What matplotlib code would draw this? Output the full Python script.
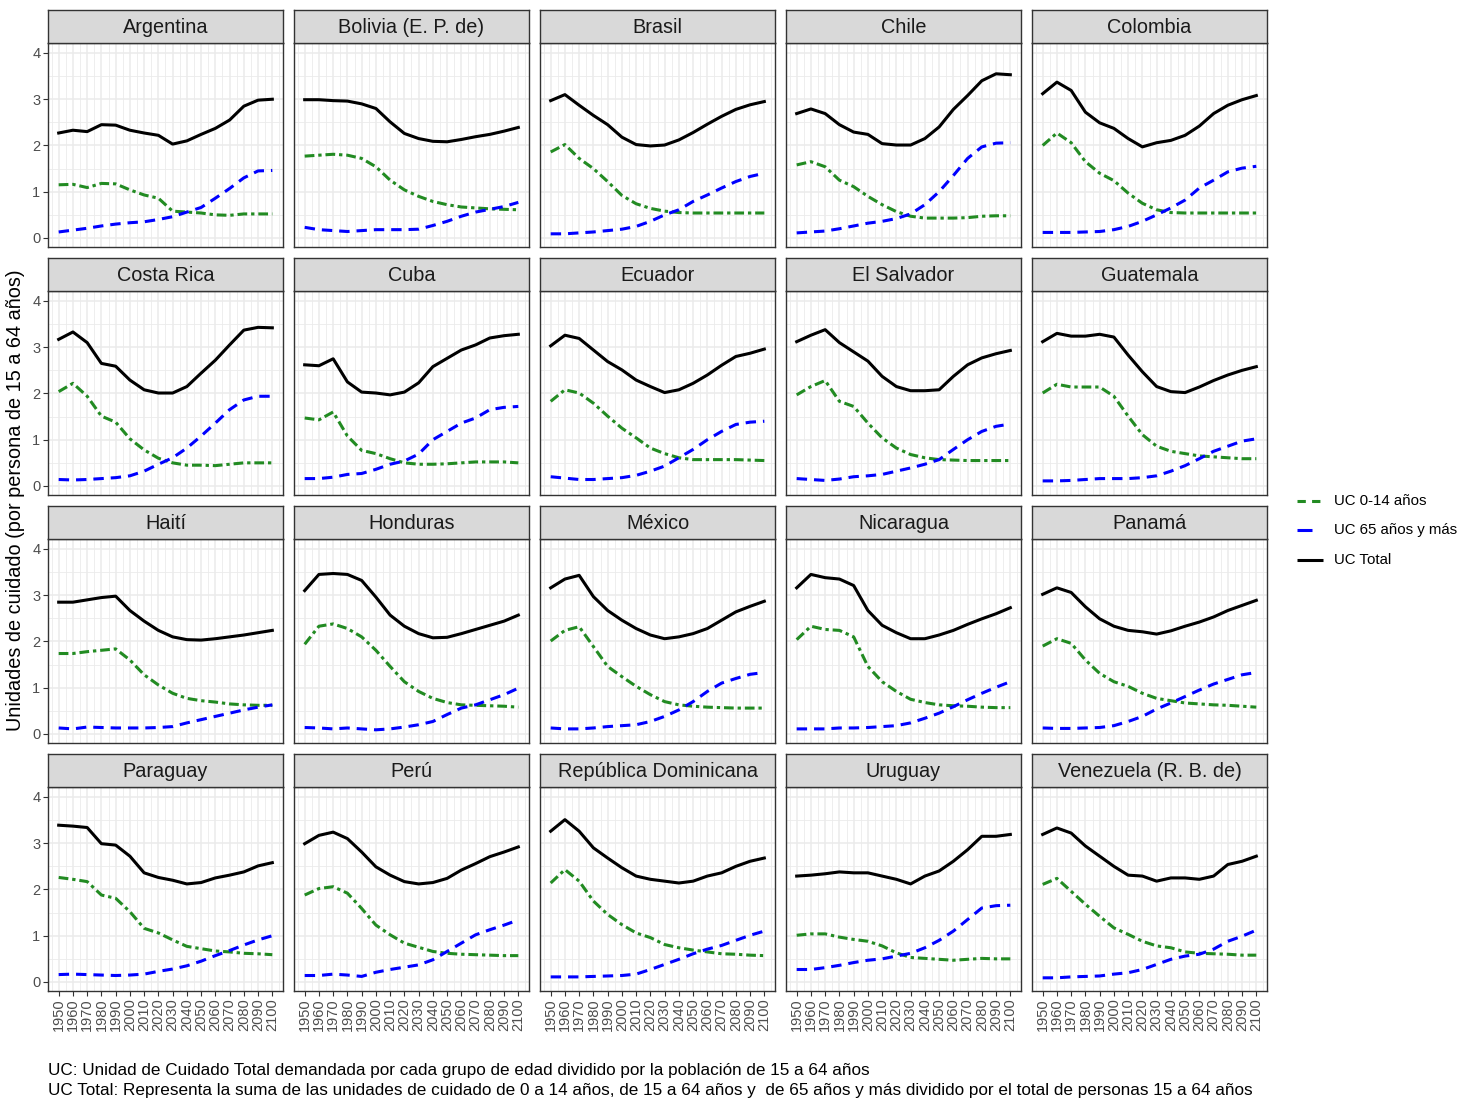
import matplotlib
matplotlib.use("Agg")
import matplotlib.pyplot as plt
from matplotlib.lines import Line2D

plt.rcParams['font.family'] = ['Liberation Sans', 'DejaVu Sans']
plt.rcParams['lines.scale_dashes'] = False

years = list(range(1950, 2101, 10))
tick_labels = [str(y) for y in years]

# ---- data: (UC 0-14, UC 65+, UC Total) per country, decadal values 1950-2100 ----
argentina_014 = [1.15, 1.16, 1.09, 1.18, 1.17, 1.04, 0.93, 0.86, 0.58, 0.56, 0.54, 0.50, 0.49, 0.52, 0.52, 0.52]
argentina_65 = [0.13, 0.17, 0.21, 0.26, 0.30, 0.33, 0.35, 0.40, 0.46, 0.56, 0.66, 0.86, 1.07, 1.30, 1.45, 1.46]
argentina_tot = [2.27, 2.33, 2.30, 2.45, 2.44, 2.33, 2.27, 2.22, 2.03, 2.10, 2.24, 2.37, 2.55, 2.85, 2.98, 3.00]

bolivia_014 = [1.77, 1.79, 1.81, 1.79, 1.72, 1.54, 1.25, 1.04, 0.90, 0.79, 0.72, 0.67, 0.65, 0.63, 0.62, 0.61]
bolivia_65 = [0.23, 0.18, 0.16, 0.14, 0.16, 0.18, 0.18, 0.18, 0.19, 0.27, 0.36, 0.47, 0.56, 0.62, 0.68, 0.77]
bolivia_tot = [2.99, 2.99, 2.97, 2.96, 2.90, 2.80, 2.51, 2.26, 2.15, 2.09, 2.08, 2.13, 2.19, 2.24, 2.31, 2.39]

brasil_014 = [1.86, 2.02, 1.72, 1.50, 1.22, 0.92, 0.74, 0.64, 0.58, 0.55, 0.54, 0.54, 0.54, 0.54, 0.54, 0.54]
brasil_65 = [0.09, 0.09, 0.11, 0.13, 0.16, 0.19, 0.25, 0.36, 0.50, 0.61, 0.79, 0.93, 1.08, 1.22, 1.33, 1.40]
brasil_tot = [2.97, 3.10, 2.87, 2.65, 2.45, 2.18, 2.02, 1.99, 2.01, 2.12, 2.28, 2.46, 2.63, 2.78, 2.88, 2.95]

chile_014 = [1.58, 1.65, 1.54, 1.25, 1.11, 0.90, 0.72, 0.57, 0.47, 0.43, 0.43, 0.43, 0.44, 0.47, 0.48, 0.48]
chile_65 = [0.11, 0.13, 0.15, 0.20, 0.26, 0.32, 0.36, 0.42, 0.52, 0.72, 1.00, 1.35, 1.72, 1.97, 2.05, 2.06]
chile_tot = [2.69, 2.79, 2.69, 2.45, 2.29, 2.24, 2.04, 2.01, 2.01, 2.15, 2.40, 2.78, 3.08, 3.40, 3.55, 3.53]

colombia_014 = [2.00, 2.27, 2.06, 1.65, 1.40, 1.24, 0.97, 0.75, 0.61, 0.55, 0.54, 0.54, 0.54, 0.54, 0.54, 0.54]
colombia_65 = [0.12, 0.12, 0.12, 0.13, 0.14, 0.18, 0.25, 0.36, 0.50, 0.65, 0.82, 1.08, 1.25, 1.43, 1.51, 1.55]
colombia_tot = [3.12, 3.37, 3.19, 2.72, 2.49, 2.37, 2.15, 1.97, 2.06, 2.11, 2.22, 2.42, 2.69, 2.87, 2.99, 3.08]

costarica_014 = [2.04, 2.22, 1.94, 1.51, 1.38, 1.02, 0.78, 0.60, 0.50, 0.45, 0.45, 0.44, 0.47, 0.50, 0.50, 0.50]
costarica_65 = [0.14, 0.13, 0.14, 0.16, 0.18, 0.22, 0.32, 0.47, 0.61, 0.82, 1.08, 1.36, 1.65, 1.86, 1.94, 1.94]
costarica_tot = [3.17, 3.33, 3.10, 2.65, 2.59, 2.29, 2.08, 2.01, 2.01, 2.15, 2.44, 2.72, 3.05, 3.37, 3.43, 3.42]

cuba_014 = [1.47, 1.43, 1.60, 1.08, 0.77, 0.70, 0.59, 0.50, 0.47, 0.47, 0.48, 0.50, 0.52, 0.52, 0.52, 0.50]
cuba_65 = [0.16, 0.16, 0.19, 0.25, 0.27, 0.36, 0.47, 0.54, 0.69, 1.00, 1.18, 1.36, 1.47, 1.65, 1.70, 1.72]
cuba_tot = [2.62, 2.60, 2.75, 2.25, 2.03, 2.01, 1.97, 2.03, 2.23, 2.58, 2.76, 2.94, 3.05, 3.20, 3.25, 3.28]

ecuador_014 = [1.83, 2.08, 2.01, 1.79, 1.51, 1.25, 1.04, 0.82, 0.70, 0.61, 0.57, 0.57, 0.57, 0.57, 0.56, 0.55]
ecuador_65 = [0.20, 0.17, 0.14, 0.14, 0.16, 0.18, 0.23, 0.32, 0.43, 0.61, 0.79, 1.00, 1.18, 1.33, 1.38, 1.40]
ecuador_tot = [3.03, 3.26, 3.19, 2.94, 2.69, 2.51, 2.29, 2.15, 2.02, 2.08, 2.22, 2.40, 2.61, 2.80, 2.87, 2.96]

elsalvador_014 = [1.97, 2.15, 2.28, 1.83, 1.72, 1.36, 1.04, 0.82, 0.68, 0.61, 0.57, 0.56, 0.55, 0.55, 0.55, 0.55]
elsalvador_65 = [0.16, 0.14, 0.12, 0.15, 0.20, 0.22, 0.25, 0.32, 0.39, 0.47, 0.57, 0.79, 1.00, 1.18, 1.29, 1.34]
elsalvador_tot = [3.12, 3.26, 3.38, 3.10, 2.90, 2.70, 2.37, 2.15, 2.06, 2.06, 2.08, 2.37, 2.62, 2.77, 2.86, 2.93]

guatemala_014 = [2.01, 2.20, 2.14, 2.14, 2.14, 1.94, 1.51, 1.11, 0.86, 0.75, 0.70, 0.65, 0.63, 0.61, 0.59, 0.59]
guatemala_65 = [0.11, 0.11, 0.12, 0.14, 0.16, 0.16, 0.16, 0.18, 0.22, 0.32, 0.44, 0.59, 0.75, 0.86, 0.97, 1.02]
guatemala_tot = [3.12, 3.30, 3.24, 3.24, 3.28, 3.22, 2.83, 2.47, 2.15, 2.04, 2.02, 2.14, 2.28, 2.40, 2.50, 2.58]

haiti_014 = [1.74, 1.74, 1.78, 1.81, 1.84, 1.60, 1.28, 1.06, 0.88, 0.77, 0.72, 0.69, 0.65, 0.63, 0.62, 0.62]
haiti_65 = [0.13, 0.11, 0.15, 0.14, 0.13, 0.13, 0.13, 0.14, 0.16, 0.24, 0.31, 0.38, 0.45, 0.52, 0.58, 0.63]
haiti_tot = [2.85, 2.85, 2.90, 2.95, 2.98, 2.67, 2.44, 2.24, 2.10, 2.04, 2.03, 2.06, 2.10, 2.14, 2.19, 2.24]

honduras_014 = [1.94, 2.33, 2.38, 2.28, 2.10, 1.81, 1.46, 1.13, 0.92, 0.77, 0.68, 0.63, 0.62, 0.61, 0.60, 0.58]
honduras_65 = [0.14, 0.13, 0.11, 0.13, 0.11, 0.09, 0.11, 0.15, 0.20, 0.27, 0.42, 0.56, 0.63, 0.74, 0.85, 0.99]
honduras_tot = [3.10, 3.45, 3.47, 3.45, 3.32, 2.96, 2.57, 2.33, 2.17, 2.08, 2.09, 2.17, 2.26, 2.35, 2.44, 2.57]

mexico_014 = [2.01, 2.24, 2.32, 1.89, 1.46, 1.24, 1.03, 0.85, 0.70, 0.63, 0.60, 0.58, 0.57, 0.56, 0.56, 0.56]
mexico_65 = [0.13, 0.11, 0.11, 0.13, 0.16, 0.18, 0.20, 0.27, 0.38, 0.52, 0.70, 0.92, 1.10, 1.20, 1.29, 1.33]
mexico_tot = [3.16, 3.35, 3.43, 2.97, 2.67, 2.46, 2.28, 2.14, 2.06, 2.10, 2.17, 2.28, 2.46, 2.64, 2.76, 2.87]

nicaragua_014 = [2.04, 2.33, 2.26, 2.24, 2.10, 1.46, 1.13, 0.92, 0.75, 0.68, 0.63, 0.61, 0.60, 0.58, 0.57, 0.57]
nicaragua_65 = [0.11, 0.11, 0.11, 0.13, 0.13, 0.14, 0.16, 0.18, 0.24, 0.34, 0.45, 0.59, 0.74, 0.88, 1.01, 1.13]
nicaragua_tot = [3.16, 3.45, 3.38, 3.35, 3.21, 2.67, 2.35, 2.19, 2.06, 2.06, 2.14, 2.24, 2.37, 2.49, 2.60, 2.73]

panama_014 = [1.90, 2.06, 1.96, 1.60, 1.31, 1.13, 1.03, 0.88, 0.77, 0.72, 0.67, 0.65, 0.63, 0.62, 0.60, 0.58]
panama_65 = [0.13, 0.12, 0.12, 0.13, 0.14, 0.18, 0.27, 0.38, 0.54, 0.67, 0.81, 0.95, 1.08, 1.18, 1.28, 1.33]
panama_tot = [3.02, 3.16, 3.06, 2.75, 2.49, 2.33, 2.24, 2.21, 2.16, 2.23, 2.33, 2.42, 2.53, 2.67, 2.78, 2.89]

paraguay_014 = [2.26, 2.22, 2.17, 1.88, 1.81, 1.52, 1.16, 1.06, 0.91, 0.77, 0.72, 0.67, 0.65, 0.62, 0.61, 0.59]
paraguay_65 = [0.16, 0.17, 0.16, 0.15, 0.14, 0.15, 0.17, 0.23, 0.28, 0.35, 0.45, 0.57, 0.68, 0.80, 0.91, 1.00]
paraguay_tot = [3.39, 3.37, 3.34, 2.99, 2.96, 2.72, 2.36, 2.26, 2.20, 2.12, 2.15, 2.25, 2.31, 2.38, 2.51, 2.58]

peru_014 = [1.88, 2.02, 2.06, 1.92, 1.59, 1.23, 1.02, 0.84, 0.75, 0.66, 0.62, 0.60, 0.59, 0.58, 0.57, 0.57]
peru_65 = [0.14, 0.14, 0.17, 0.15, 0.12, 0.21, 0.27, 0.32, 0.37, 0.48, 0.66, 0.84, 1.02, 1.13, 1.23, 1.34]
peru_tot = [2.99, 3.17, 3.24, 3.10, 2.81, 2.49, 2.31, 2.17, 2.12, 2.15, 2.24, 2.42, 2.56, 2.71, 2.81, 2.92]

repdom_014 = [2.14, 2.43, 2.18, 1.75, 1.46, 1.24, 1.06, 0.96, 0.81, 0.74, 0.69, 0.65, 0.61, 0.60, 0.58, 0.57]
repdom_65 = [0.11, 0.11, 0.11, 0.12, 0.13, 0.14, 0.17, 0.27, 0.38, 0.49, 0.61, 0.71, 0.79, 0.90, 1.01, 1.10]
repdom_tot = [3.26, 3.51, 3.26, 2.90, 2.68, 2.47, 2.29, 2.22, 2.18, 2.14, 2.18, 2.29, 2.36, 2.50, 2.61, 2.68]

uruguay_014 = [1.01, 1.04, 1.04, 0.97, 0.92, 0.88, 0.78, 0.63, 0.53, 0.51, 0.49, 0.47, 0.49, 0.51, 0.50, 0.50]
uruguay_65 = [0.27, 0.27, 0.31, 0.36, 0.42, 0.47, 0.50, 0.56, 0.62, 0.74, 0.90, 1.10, 1.35, 1.60, 1.65, 1.66]
uruguay_tot = [2.29, 2.31, 2.34, 2.38, 2.36, 2.36, 2.29, 2.22, 2.12, 2.29, 2.40, 2.61, 2.86, 3.15, 3.15, 3.19]

venezuela_014 = [2.11, 2.24, 1.96, 1.68, 1.42, 1.17, 1.03, 0.88, 0.78, 0.74, 0.65, 0.62, 0.61, 0.60, 0.58, 0.58]
venezuela_65 = [0.09, 0.09, 0.11, 0.12, 0.13, 0.17, 0.20, 0.27, 0.38, 0.49, 0.56, 0.60, 0.71, 0.88, 0.99, 1.12]
venezuela_tot = [3.19, 3.33, 3.22, 2.94, 2.72, 2.50, 2.31, 2.29, 2.18, 2.25, 2.25, 2.22, 2.29, 2.54, 2.61, 2.72]

countries = ["Argentina", "Bolivia (E. P. de)", "Brasil", "Chile", "Colombia",
             "Costa Rica", "Cuba", "Ecuador", "El Salvador", "Guatemala",
             "Haití", "Honduras", "México", "Nicaragua", "Panamá",
             "Paraguay", "Perú", "República Dominicana", "Uruguay", "Venezuela (R. B. de)"]
series = [
    (argentina_014, argentina_65, argentina_tot), (bolivia_014, bolivia_65, bolivia_tot),
    (brasil_014, brasil_65, brasil_tot), (chile_014, chile_65, chile_tot),
    (colombia_014, colombia_65, colombia_tot), (costarica_014, costarica_65, costarica_tot),
    (cuba_014, cuba_65, cuba_tot), (ecuador_014, ecuador_65, ecuador_tot),
    (elsalvador_014, elsalvador_65, elsalvador_tot), (guatemala_014, guatemala_65, guatemala_tot),
    (haiti_014, haiti_65, haiti_tot), (honduras_014, honduras_65, honduras_tot),
    (mexico_014, mexico_65, mexico_tot), (nicaragua_014, nicaragua_65, nicaragua_tot),
    (panama_014, panama_65, panama_tot), (paraguay_014, paraguay_65, paraguay_tot),
    (peru_014, peru_65, peru_tot), (repdom_014, repdom_65, repdom_tot),
    (uruguay_014, uruguay_65, uruguay_tot), (venezuela_014, venezuela_65, venezuela_tot),
]
legend_labels = ["UC 0-14 años", "UC 65 años y más", "UC Total"]

# ---- styling ----
W, H = 1477, 1108
fig = plt.figure(figsize=(W / 100, H / 100), dpi=100)
fig.patch.set_facecolor("white")

GREEN = "#228B22"
BLUE = "#0000FF"
BLACK = "#000000"
LW = 2.2
green_dash = (0, (7.0, 2.8, 2.4, 2.8))
blue_dash = (0, (7.5, 5.0))

col_left = [48, 294, 540, 786, 1032]
row_top = [10, 258, 506, 754]
pw, strip_h, ph = 235, 33, 204

def fx(px):
    return px / W

def fy(py):
    return 1 - py / H

for i, (name, (s014, s65, stot)) in enumerate(zip(countries, series)):
    r, c = divmod(i, 5)
    left = col_left[c]
    top = row_top[r]
    ax = fig.add_axes([fx(left), fy(top + strip_h + ph), pw / W, ph / H])
    ax.set_facecolor("white")
    ax.set_xlim(1942.5, 2107.5)
    ax.set_ylim(-0.195, 4.216)
    ax.set_xticks(years)
    ax.set_xticks([y + 5 for y in range(1940, 2101, 10)], minor=True)
    ax.set_yticks([0, 1, 2, 3, 4])
    ax.set_yticks([0.5, 1.5, 2.5, 3.5], minor=True)
    ax.grid(which="major", color="#EBEBEB", linewidth=1.1)
    ax.grid(which="minor", color="#EBEBEB", linewidth=0.6)
    ax.set_axisbelow(True)
    for sp in ax.spines.values():
        sp.set_color("#333333")
        sp.set_linewidth(1.0)
    ax.tick_params(which="minor", length=0)
    ax.tick_params(which="major", color="#333333", width=0.8, length=3.5,
                   labelcolor="#4D4D4D", labelsize=10.5)
    if r == 3:
        ax.set_xticklabels(tick_labels, rotation=90)
        ax.tick_params(axis="x", pad=1.5)
    else:
        ax.tick_params(axis="x", length=0, labelbottom=False)
    if c == 0:
        ax.set_yticklabels(["0", "1", "2", "3", "4"])
        ax.tick_params(axis="y", pad=2)
    else:
        ax.tick_params(axis="y", length=0, labelleft=False)

    ax.plot(years, s014, color=GREEN, linewidth=LW, linestyle=green_dash)
    ax.plot(years, s65, color=BLUE, linewidth=LW, linestyle=blue_dash)
    ax.plot(years, stot, color=BLACK, linewidth=LW, linestyle="-", solid_joinstyle="round")

    sax = fig.add_axes([fx(left), fy(top + strip_h), pw / W, strip_h / H])
    sax.set_facecolor("#D9D9D9")
    sax.set_xticks([])
    sax.set_yticks([])
    for sp in sax.spines.values():
        sp.set_color("#333333")
        sp.set_linewidth(1.0)
    sax.text(0.5, 0.47, name, ha="center", va="center", fontsize=14.3,
             color="#1A1A1A", transform=sax.transAxes)

# y label
fig.text(fx(16), fy(500), "Unidades de cuidado (por persona de 15 a 64 años)",
         rotation=90, ha="center", va="center", fontsize=14.3, color="black")

# legend (manual keys)
fig.add_artist(Line2D([fx(1297), fx(1323)], [fy(501), fy(501)], color=GREEN,
                      linewidth=LW, linestyle=(0, (6.0, 4.5)), transform=fig.transFigure))
fig.add_artist(Line2D([fx(1297), fx(1312)], [fy(530), fy(530)], color=BLUE,
                      linewidth=LW, linestyle="-", solid_capstyle="butt", transform=fig.transFigure))
fig.add_artist(Line2D([fx(1297), fx(1323)], [fy(560), fy(560)], color=BLACK,
                      linewidth=LW, linestyle="-", solid_capstyle="butt", transform=fig.transFigure))
for lab, yy in zip(legend_labels, [501, 530, 560]):
    fig.text(fx(1334), fy(yy), lab, ha="left", va="center", fontsize=10.8, color="black")

# caption
fig.text(fx(48), fy(1071), "UC: Unidad de Cuidado Total demandada por cada grupo de edad dividido por la población de 15 a 64 años",
         ha="left", va="center", fontsize=12.3, color="black")
fig.text(fx(48), fy(1090), "UC Total: Representa la suma de las unidades de cuidado de 0 a 14 años, de 15 a 64 años y  de 65 años y más dividido por el total de personas 15 a 64 años",
         ha="left", va="center", fontsize=12.3, color="black")

fig.savefig("out.png", dpi=100, facecolor="white")
